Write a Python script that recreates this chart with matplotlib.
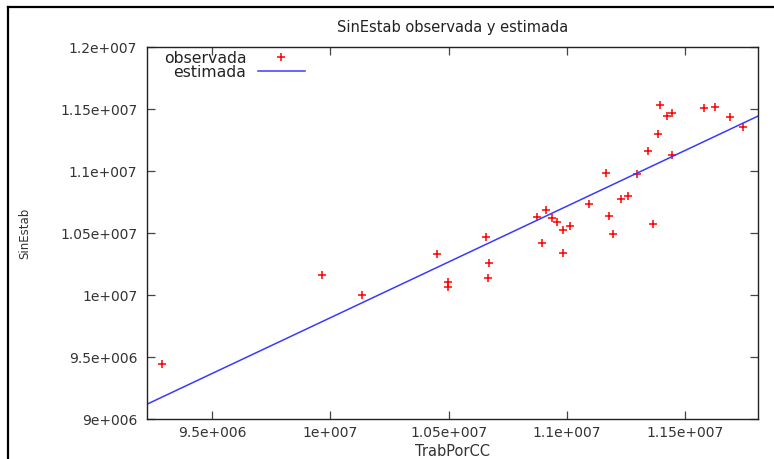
import matplotlib
matplotlib.use('Agg')
import matplotlib.pyplot as plt
from matplotlib.lines import Line2D
from matplotlib.ticker import MultipleLocator, FuncFormatter

# observed points (TrabPorCC, SinEstab)
trab = [9.287e6, 9.966e6, 1.01355e7, 1.04513e7, 1.06575e7, 1.06715e7, 1.06672e7,
        1.04979e7, 1.04979e7, 1.08764e7, 1.09115e7, 1.09399e7, 1.09611e7, 1.10131e7,
        1.09848e7, 1.08946e7, 1.09848e7, 1.10948e7, 1.11668e7, 1.12997e7, 1.12320e7,
        1.12599e7, 1.11782e7, 1.11964e7, 1.13658e7, 1.13971e7, 1.14251e7, 1.14462e7,
        1.13870e7, 1.13463e7, 1.14462e7, 1.15817e7, 1.16299e7, 1.16918e7, 1.17468e7]
sin_estab = [9.4436e6, 1.01613e7, 1.0000e7, 1.03306e7, 1.04677e7, 1.02629e7, 1.01371e7,
             1.01097e7, 1.00694e7, 1.06339e7, 1.06879e7, 1.06210e7, 1.05936e7, 1.05589e7,
             1.05266e7, 1.04194e7, 1.03436e7, 1.07339e7, 1.09839e7, 1.09782e7, 1.07766e7,
             1.08032e7, 1.06419e7, 1.04968e7, 1.05750e7, 1.15347e7, 1.14460e7, 1.14677e7,
             1.13008e7, 1.11613e7, 1.11290e7, 1.15129e7, 1.15210e7, 1.14379e7, 1.13597e7]

# estimated line (endpoints at the x range)
est_x = [9.223e6, 1.181e7]
est_y = [9.1217e6, 1.14454e7]

x_range = (9.223e6, 1.181e7)
y_range = (9.0e6, 1.2e7)


def gp_fmt(v, pos):
    # gnuplot on windows style: 1.2e+007
    s = f"{v:g}"
    if 'e' in s:
        mant, exp = s.split('e')
        s = mant + 'e' + exp[0] + exp[1:].zfill(3)
    return s


fig = plt.figure(figsize=(7.74, 4.59), dpi=100)
ax = fig.add_axes([0.1899, 0.0865, 0.9793 - 0.1899, 0.8969 - 0.0865])

ax.plot(trab, sin_estab, linestyle='none', marker='+', color='#ff0000',
        markersize=6, markeredgewidth=1.1, label='observada')
ax.plot(est_x, est_y, color='#3a3aff', linewidth=1.1, label='estimada')

ax.set_xlim(*x_range)
ax.set_ylim(*y_range)
ax.xaxis.set_major_locator(MultipleLocator(5e5))
ax.yaxis.set_major_locator(MultipleLocator(5e5))
ax.xaxis.set_major_formatter(FuncFormatter(gp_fmt))
ax.yaxis.set_major_formatter(FuncFormatter(gp_fmt))
ax.tick_params(direction='in', length=5.5, width=0.9, color='#444444',
               top=True, right=True, labelsize=10, labelcolor='#333333')
ax.tick_params(axis='y', pad=7)
ax.tick_params(axis='x', pad=5)
for sp in ax.spines.values():
    sp.set_linewidth(1.0)
    sp.set_color('#222222')

ax.set_title('SinEstab observada y estimada', fontsize=10.5, color='#222222', pad=11)
ax.set_xlabel('TrabPorCC', fontsize=10.5, color='#333333', labelpad=3)
ax.set_ylabel('SinEstab', fontsize=8.5, color='#333333', labelpad=21)

leg = ax.legend(loc='upper left', frameon=False, markerfirst=False, numpoints=1,
                fontsize=11.3, handlelength=3.0, handletextpad=0.75, labelspacing=-0.07,
                borderpad=0.3, borderaxespad=0.0, bbox_to_anchor=(0.0196, 1.003))
for col in leg._legend_handle_box.get_children():
    col.align = 'right'
for t in leg.get_texts():
    t.set_color('#222222')

# outer window frame (top and left edges)
fig.add_artist(Line2D([8 / 774, 1.0], [1 - 7 / 459, 1 - 7 / 459], transform=fig.transFigure,
                      color='black', linewidth=1.6))
fig.add_artist(Line2D([8 / 774, 8 / 774], [0.0, 1 - 7 / 459], transform=fig.transFigure,
                      color='black', linewidth=1.6))

fig.savefig('out.png', dpi=100)
